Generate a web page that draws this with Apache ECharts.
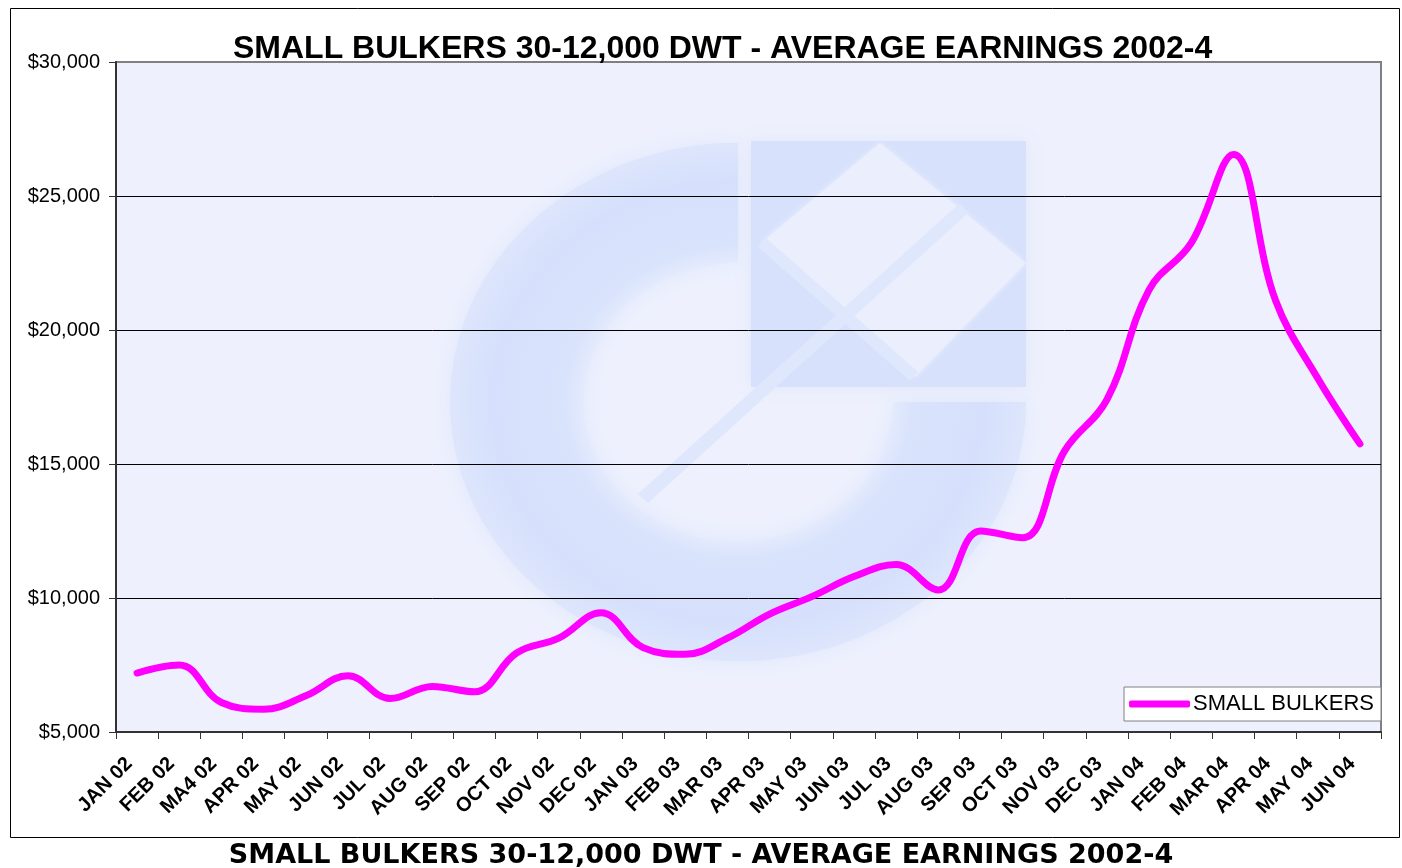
<!DOCTYPE html>
<html>
<head>
<meta charset="utf-8">
<script src="https://cdn.jsdelivr.net/npm/echarts@6/dist/echarts.min.js"></script>
<style>
  html, body { margin: 0; padding: 0; background: #ffffff; }
  #chart { width: 1402px; height: 868px; }
</style>
</head>
<body>
<div id="chart"></div>
<script>
// monthly average earnings, small bulkers 30-12,000 dwt ($/day)
const months = [
  "JAN 02", "FEB 02", "MA4 02", "APR 02", "MAY 02", "JUN 02", "JUL 02", "AUG 02", "SEP 02", "OCT 02",
  "NOV 02", "DEC 02", "JAN 03", "FEB 03", "MAR 03", "APR 03", "MAY 03", "JUN 03", "JUL 03", "AUG 03",
  "SEP 03", "OCT 03", "NOV 03", "DEC 03", "JAN 04", "FEB 04", "MAR 04", "APR 04", "MAY 04", "JUN 04"
];
const smallBulkers = [
  7200, 7500, 6100, 5850, 6350, 7100, 6250, 6700, 6500, 7950,
  8500, 9450, 8150, 7900, 8500, 9400, 10050, 10800, 11250, 10300,
  12500, 12250, 15500, 17400, 21500, 23250, 26550, 21100, 18200, 15750
];
const yTicks = [5000, 10000, 15000, 20000, 25000, 30000];

const titleText = "SMALL BULKERS 30-12,000 DWT - AVERAGE EARNINGS 2002-4";

const chart = echarts.init(document.getElementById("chart"), null, { renderer: "canvas" });

// faint company logo behind the plot (decoration only)
const logoBlue = "#D7E1FC";
const logoPale = "#EBEFFD";
const ringFill = {
  type: "radial", global: true, x: 738, y: 402, r: 290,
  colorStops: [
    { offset: 0.5, color: "#E9EEFD" },
    { offset: 0.6, color: "#D9E3FC" },
    { offset: 0.85, color: "#D6E0FC" },
    { offset: 1, color: "#DEE6FC" }
  ]
};
const watermark = [
  { type: "rect", z: -10, shape: { x: 116, y: 62, width: 1265, height: 670 }, style: { fill: "#EEF1FD" } },
  {
    type: "sector", z: -9,
    originX: 738, originY: 402, scaleY: 0.9,
    shape: { cx: 738, cy: 402, r: 288, r0: 155, startAngle: 0, endAngle: Math.PI * 1.5, clockwise: true },
    style: { fill: ringFill, shadowBlur: 24, shadowColor: "#E0E7FC" }
  },
  {
    type: "rect", z: -9,
    shape: { x: 751, y: 141, width: 275, height: 246 },
    style: { fill: logoBlue, shadowBlur: 14, shadowColor: "#E0E7FC" }
  },
  {
    type: "polygon", z: -8,
    shape: { points: [[880, 143], [1026, 263], [915, 377], [761, 243]] },
    style: { fill: logoPale, shadowBlur: 6, shadowColor: logoPale }
  },
  {
    type: "polygon", z: -7,
    shape: { points: [[638, 494], [960, 203], [968, 213], [648, 503]] },
    style: { fill: "#DFE7FC" }
  },
  {
    type: "polygon", z: -7,
    shape: { points: [[766, 238], [918, 372], [910, 381], [758, 247]] },
    style: { fill: "#DFE7FC" }
  },
  {
    type: "rect", z: 50, silent: true,
    shape: { x: 10.5, y: 8.5, width: 1389, height: 829 },
    style: { fill: "none", stroke: "#000000", lineWidth: 1 }
  }
];

const option = {
  animation: false,
  backgroundColor: "#ffffff",
  title: [
    {
      text: titleText,
      left: 228,
      top: 28,
      textStyle: { fontFamily: "Liberation Sans, Arial", fontWeight: "bold", fontSize: 32, color: "#000000" }
    },
    {
      text: titleText,
      left: "center",
      top: 837,
      textStyle: { fontFamily: "DejaVu Sans", fontWeight: "bold", fontSize: 27, color: "#000000" }
    }
  ],
  legend: {
    data: ["SMALL BULKERS"],
    right: 21,
    top: 687,
    orient: "horizontal",
    icon: "roundRect",
    itemWidth: 61,
    itemHeight: 7,
    itemGap: 0,
    padding: [6, 7, 6, 5],
    backgroundColor: "#ffffff",
    borderColor: "#808080",
    borderWidth: 1,
    textStyle: { fontFamily: "Liberation Sans, Arial", fontSize: 22, color: "#000000", padding: [0, 0, 0, -2] }
  },
  grid: {
    left: 116,
    top: 62,
    right: 21,
    bottom: 136,
    show: true,
    backgroundColor: "transparent",
    borderColor: "#808080",
    borderWidth: 2
  },
  xAxis: {
    type: "category",
    data: months,
    boundaryGap: true,
    axisLine: { lineStyle: { color: "#333333", width: 2 } },
    axisTick: { show: true, length: 7, lineStyle: { color: "#333333", width: 1 } },
    axisLabel: {
      interval: 0,
      rotate: 45,
      margin: 21,
      padding: [0, 11, 0, 0],
      fontFamily: "Liberation Sans, Arial",
      fontWeight: "bold",
      fontSize: 20,
      color: "#000000"
    },
    splitLine: { show: false }
  },
  yAxis: {
    type: "value",
    min: yTicks[0],
    max: yTicks[yTicks.length - 1],
    interval: 5000,
    axisLine: { show: true, lineStyle: { color: "#333333", width: 2 } },
    axisTick: { show: true, length: 7, lineStyle: { color: "#333333" } },
    axisLabel: {
      margin: 16,
      fontFamily: "Liberation Sans, Arial",
      fontSize: 20,
      color: "#000000",
      formatter: (v) => "$" + v.toLocaleString("en-US")
    },
    splitLine: { show: true, lineStyle: { color: ["#000000", "#000000", "#000000", "#000000", "#000000", "#808080"], width: 1 } }
  },
  graphic: { elements: watermark },
  series: [
    {
      name: "SMALL BULKERS",
      type: "line",
      data: smallBulkers,
      smooth: 0.4,
      symbol: "none",
      lineStyle: { color: "#FF00FF", width: 7, cap: "round", join: "round" },
      itemStyle: { color: "#FF00FF" },
      z: 5
    }
  ]
};

chart.setOption(option);
</script>
</body>
</html>
